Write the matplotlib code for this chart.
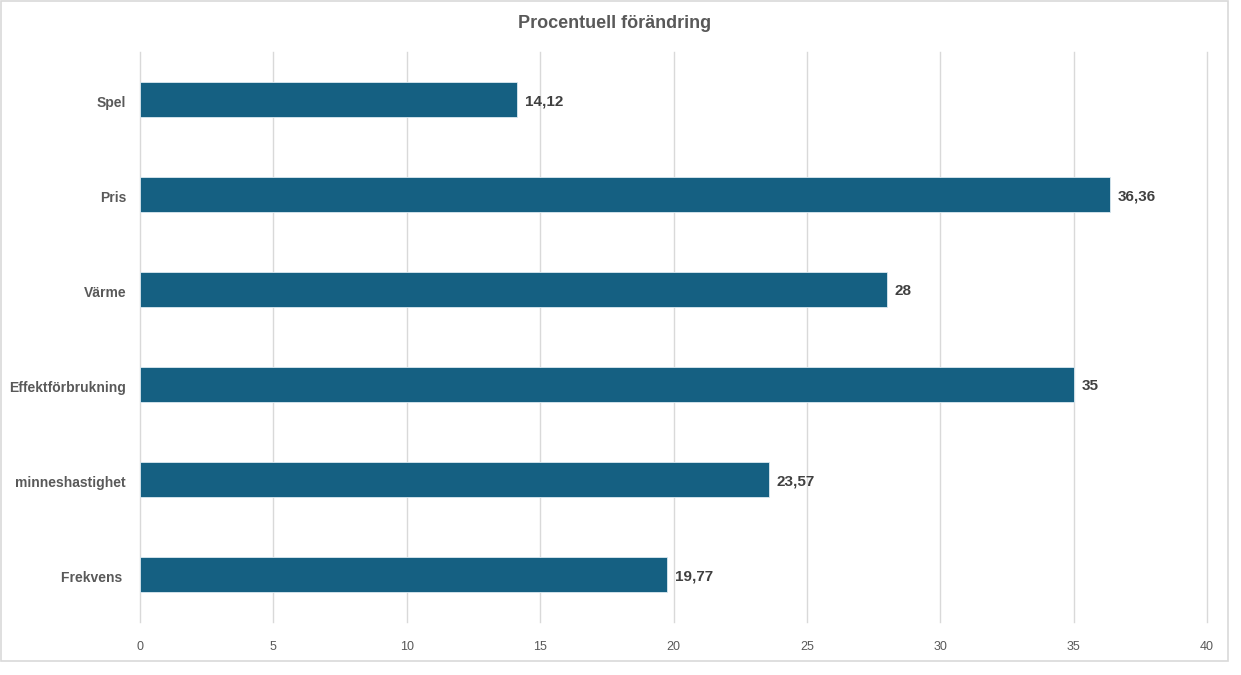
import matplotlib.pyplot as plt
from matplotlib.patches import Rectangle

categories = ['Spel', 'Pris', 'Värme', 'Effektförbrukning', 'minneshastighet', 'Frekvens ']
values = [14.12, 36.36, 28, 35, 23.57, 19.77]
value_labels = ['14,12', '36,36', '28', '35', '23,57', '19,77']
xticks = [0, 5, 10, 15, 20, 25, 30, 35, 40]

plt.rcParams['font.family'] = ['Liberation Sans', 'DejaVu Sans']

fig = plt.figure(figsize=(12.41, 6.75), dpi=100)
ax = fig.add_axes([140 / 1241, 1 - 622 / 675, (1207 - 140) / 1241, (622 - 52) / 675])

# chart border like the office chart frame
fig.patches.append(Rectangle((1 / 1241, 1 - 661 / 675), 1227 / 1241, 660 / 675,
                             transform=fig.transFigure, fill=False,
                             edgecolor='#d9d9d9', linewidth=1.2))

ypos = list(range(len(categories)))
ax.barh(ypos, values, height=0.36, color='#156082', edgecolor='#dbe9f0', linewidth=0.6, zorder=3)

for y, v, lab in zip(ypos, values, value_labels):
    ax.text(v + 0.3, y + 0.02, lab, va='center', ha='left', fontsize=11, fontweight='bold',
            color='#404040')

ax.set_yticks([y + 0.02 for y in ypos])
ax.set_yticklabels(categories, fontsize=10, fontweight='bold', color='#595959')
ax.set_ylim(len(categories) - 0.5, -0.5)

ax.set_xlim(0, 40)
ax.set_xticks(xticks)
ax.set_xticklabels([str(t) for t in xticks], fontsize=9, color='#595959')
ax.tick_params(axis='both', length=0)
ax.tick_params(axis='x', pad=14)
ax.tick_params(axis='y', pad=10)

ax.grid(axis='x', color='#d9d9d9', linewidth=1, zorder=0)
for gl in ax.get_xgridlines():
    gl.set_clip_on(False)
for s in ax.spines.values():
    s.set_visible(False)

fig.text(615 / 1241, 1 - 24 / 675, 'Procentuell förändring', ha='center', va='center',
         fontsize=13, fontweight='bold', color='#595959')

fig.savefig('out.png', dpi=100)
